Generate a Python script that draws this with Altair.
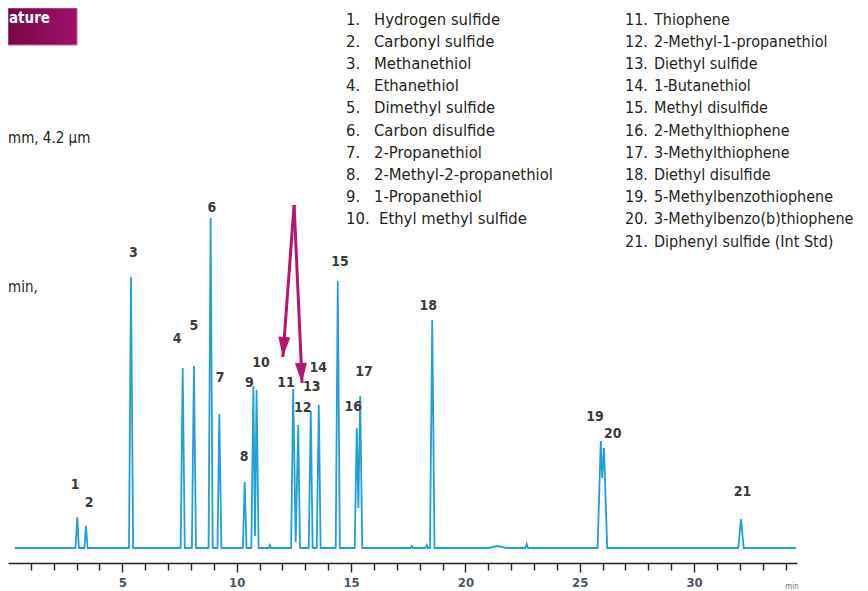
import altair as alt
import pandas as pd

# ---------------- data ----------------
# trace: retention time (min) and detector response (arbitrary units)
trace_time = [0.30,
              2.95, 3.03, 3.10,
              3.34, 3.41, 3.48,
              5.29, 5.38, 5.47,
              7.55, 7.64, 7.73,
              8.04, 8.13, 8.22,
              8.77, 8.86, 8.95,
              9.16, 9.24, 9.33,
              10.27, 10.35, 10.43,
              10.64, 10.73, 10.80, 10.87, 10.96,
              11.40, 11.45, 11.50,
              12.38, 12.47, 12.58, 12.69, 12.77,
              13.15, 13.24, 13.32,
              13.50, 13.59, 13.67,
              14.33, 14.42, 14.51,
              15.16, 15.25, 15.32, 15.40, 15.49,
              17.60, 17.65, 17.70,
              18.25, 18.31, 18.36,
              18.45, 18.55, 18.65,
              21.00, 21.40, 21.80,
              22.62, 22.68, 22.74,
              25.78, 25.92, 25.98, 26.06, 26.20,
              31.93, 32.05, 32.17,
              34.45]
trace_signal = [0,
                0, 31, 0,
                0, 22, 0,
                0, 271, 0,
                0, 180, 0,
                0, 182, 0,
                0, 330, 0,
                0, 134, 0,
                0, 66, 0,
                0, 162, 12, 158, 0,
                0, 3, 0,
                0, 159, 6, 123, 0,
                0, 137, 0,
                0, 143, 0,
                0, 267, 0,
                0, 120, 40, 152, 0,
                0, 2, 0,
                0, 3, 0,
                0, 228, 0,
                0, 2, 0,
                0, 4, 0,
                0, 107, 70, 100, 0,
                0, 29, 0,
                0]

# peak number labels (anchor in time / response units)
peak_ids = [str(i) for i in range(1, 22)]
label_time = [2.93, 3.55, 5.48, 7.40, 8.13, 8.91, 9.27, 10.32, 10.55, 11.06,
              12.16, 12.89, 13.28, 13.57, 14.52, 15.10, 15.57, 18.38, 25.67, 26.44, 32.12]
label_resp = [63, 45, 295, 209, 222, 340, 170, 91, 165, 185,
              165, 140, 161, 180, 286, 141, 176, 242, 131, 114, 56]

compounds = ["Hydrogen sulfide", "Carbonyl sulfide", "Methanethiol", "Ethanethiol",
             "Dimethyl sulfide", "Carbon disulfide", "2-Propanethiol",
             "2-Methyl-2-propanethiol", "1-Propanethiol", "Ethyl methyl sulfide",
             "Thiophene", "2-Methyl-1-propanethiol", "Diethyl sulfide", "1-Butanethiol",
             "Methyl disulfide", "2-Methylthiophene", "3-Methylthiophene",
             "Diethyl disulfide", "5-Methylbenzothiophene", "3-Methylbenzo(b)thiophene",
             "Diphenyl sulfide (Int Std)"]

# arrows (time, response): apex and two tips
arrow_apex_t = [12.51, 12.51]
arrow_apex_s = [343, 343]
arrow_tip_t = [12.02, 12.86]
arrow_tip_s = [191, 165]
head_t = [12.05, 12.83]
head_s = [201, 175]
head_angle = [4, 357]

tick_values = list(range(1, 35))

# ---------------- styling ----------------
BLUE = "#1f9fdb"
MAGENTA = "#b8136f"
TXT = "#231f20"
FONT = "DejaVu Sans Condensed"
W, H = 789, 555

trace_df = pd.DataFrame({"t": trace_time, "s": trace_signal})
lab_df = pd.DataFrame({"t": label_time, "s": label_resp, "id": peak_ids})
arrow_df = pd.DataFrame({"t": arrow_apex_t, "s": arrow_apex_s,
                         "t2": arrow_tip_t, "s2": arrow_tip_s})
head_df = pd.DataFrame({"t": head_t, "s": head_s, "ang": head_angle})

# legend table (layout in pixels)
rows = []
for i, name in enumerate(compounds):
    col = 0 if i < 10 else 1
    r = i if i < 10 else i - 10
    nx = 338 if col == 0 else 617
    tx = (366 if i < 9 else 371) if col == 0 else 646
    y = 11.5 + 22.2 * r
    rows.append({"nx": nx, "tx": tx, "py": y, "num": f"{i + 1}.", "name": name, "col": col})
leg_df = pd.DataFrame(rows)
leg1 = leg_df[leg_df.col == 0]
leg2 = leg_df[leg_df.col == 1]

xscale = alt.Scale(domain=[0, 34.5], nice=False, zero=False)
yscale = alt.Scale(domain=[-15, 540], nice=False, zero=False)

trace = alt.Chart(trace_df).mark_line(color=BLUE, strokeWidth=1.8).encode(
    x=alt.X("t:Q", scale=xscale, title=None,
            axis=alt.Axis(values=tick_values, tickCount=60, format="d",
                          labelExpr="datum.value % 5 === 0 ? datum.label : ''",
                          labelOverlap=False,
                          grid=False, domainColor="#222", domainWidth=1.6,
                          tickColor="#222", tickWidth=1.4,
                          tickSize={"condition": {"test": "datum.value % 5 === 0", "value": 9},
                                    "value": 7},
                          labelFont=FONT, labelFontSize=13, labelFontWeight="bold",
                          labelColor="#4a5566", labelPadding=4, labelFlush=False)),
    y=alt.Y("s:Q", scale=yscale, axis=None),
)

labels = alt.Chart(lab_df).mark_text(font=FONT, fontSize=14, color="#3a3a3a",
                                     fontWeight="bold", baseline="middle", align="center").encode(
    x=alt.X("t:Q", scale=xscale), y=alt.Y("s:Q", scale=yscale), text="id:N")

arrows = alt.Chart(arrow_df).mark_rule(color=MAGENTA, strokeWidth=3).encode(
    x=alt.X("t:Q", scale=xscale), y=alt.Y("s:Q", scale=yscale), x2="t2:Q", y2="s2:Q")

heads = alt.Chart(head_df).mark_point(shape="M-0.6,-1L0.6,-1L0,1Z", filled=True,
                                      color=MAGENTA, opacity=1, size=400).encode(
    x=alt.X("t:Q", scale=xscale), y=alt.Y("s:Q", scale=yscale),
    angle=alt.Angle("ang:Q", scale=None))

def legend_layers(df, size):
    num = alt.Chart(df).mark_text(font=FONT, fontSize=size, color=TXT,
                                  align="left", baseline="middle").encode(
        x=alt.X("nx:Q", scale=None), y=alt.Y("py:Q", scale=None), text="num:N")
    name = alt.Chart(df).mark_text(font=FONT, fontSize=size, color=TXT,
                                   align="left", baseline="middle").encode(
        x=alt.X("tx:Q", scale=None), y=alt.Y("py:Q", scale=None), text="name:N")
    return [num, name]

one = pd.DataFrame({"k": [0]})
box = alt.Chart(one).mark_rect(
    fill=alt.Gradient(gradient="linear",
                      stops=[alt.GradientStop(color="#760842", offset=0),
                             alt.GradientStop(color="#a0106a", offset=1)],
                      x1=0, x2=1, y1=0, y2=0),
    stroke="#c8649e", strokeWidth=1).encode(
    x=alt.value(0), x2=alt.value(69), y=alt.value(0), y2=alt.value(37))
box_txt = alt.Chart(one).mark_text(text="ature", font=FONT, fontSize=15, fontWeight="bold",
                                   color="white", align="left", baseline="middle").encode(
    x=alt.value(1), y=alt.value(10))
side1 = alt.Chart(one).mark_text(text="mm, 4.2 µm", font=FONT, fontSize=15, color=TXT,
                                 align="left", baseline="middle").encode(
    x=alt.value(0), y=alt.value(130))
side2 = alt.Chart(one).mark_text(text="min,", font=FONT, fontSize=15, color=TXT,
                                 align="left", baseline="middle").encode(
    x=alt.value(0), y=alt.value(279))
minlab = alt.Chart(one).mark_text(text="min", font=FONT, fontSize=8, color="#777",
                                  align="center", baseline="middle").encode(
    x=alt.value(784), y=alt.value(579))

chart = alt.layer(box, box_txt, side1, side2,
                  *legend_layers(leg1, 16.5), *legend_layers(leg2, 16),
                  trace, labels, arrows, heads, minlab).properties(
    width=W, height=H,
    padding={"left": 0, "top": 0, "right": 63, "bottom": 28},
    autosize=alt.AutoSizeParams(type="none"),
).configure_view(stroke=None)

chart.save("out.html", embed_options={"renderer": "svg", "actions": False})
